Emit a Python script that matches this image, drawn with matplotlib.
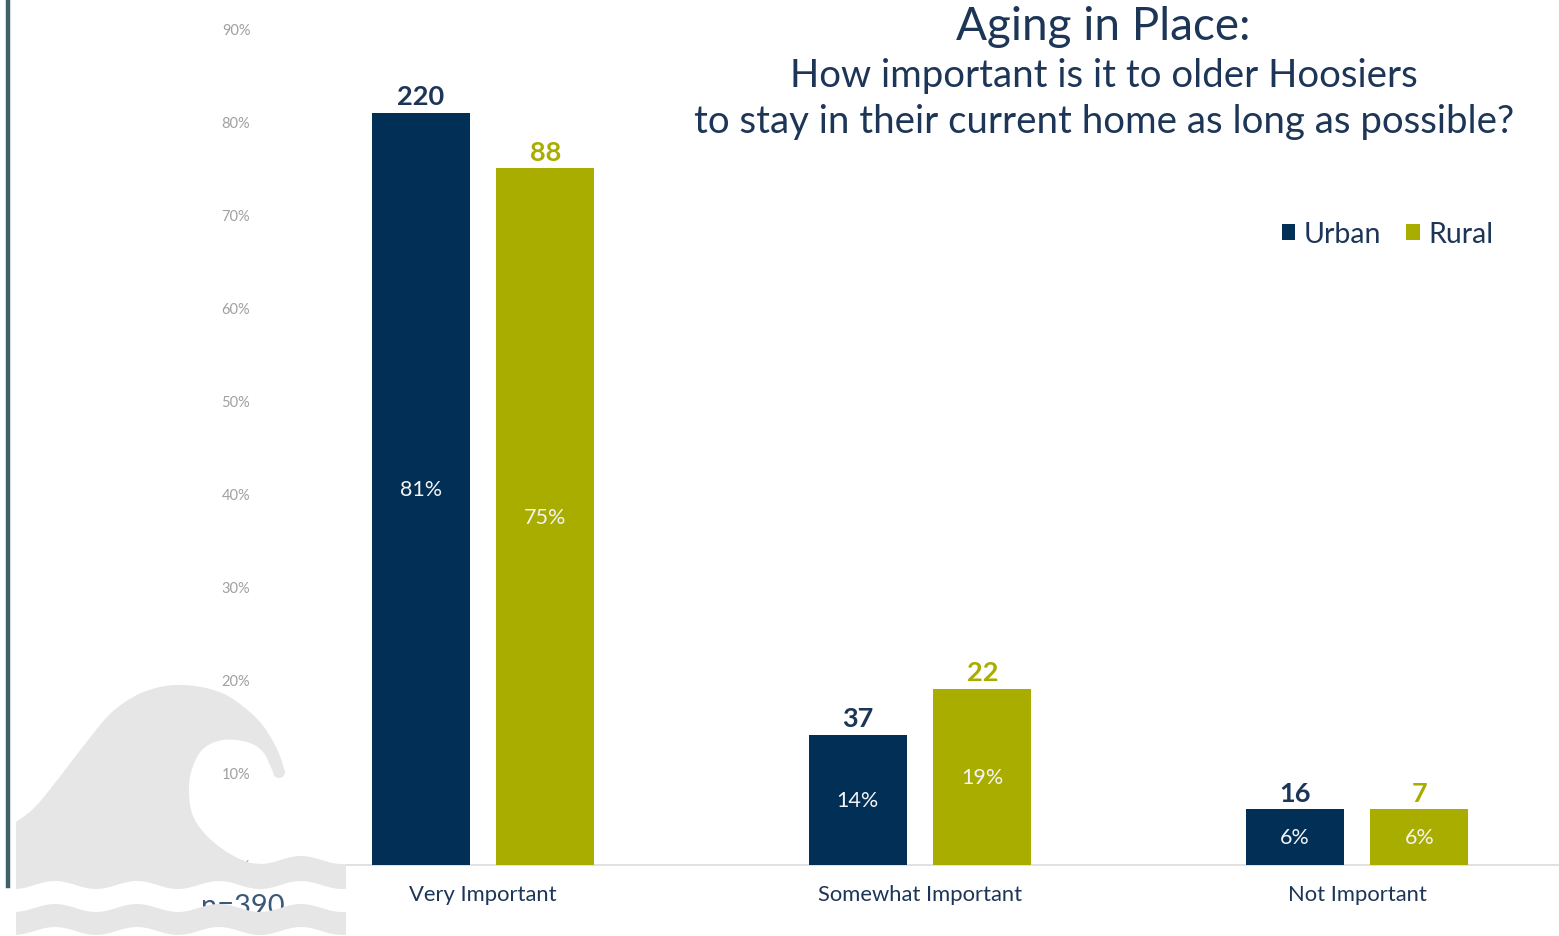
import numpy as np
import matplotlib
matplotlib.use("Agg")
import matplotlib.pyplot as plt
from matplotlib.patches import Polygon, Patch
from matplotlib.lines import Line2D

plt.rcParams['font.family'] = ['Lato', 'DejaVu Sans']

# ---- data ----
categories = ["Very Important", "Somewhat Important", "Not Important"]
urban_pct = [81, 14, 6]
rural_pct = [75, 19, 6]
urban_n = [220, 37, 16]
rural_n = [88, 22, 7]
total_n = 390
y_ticks = list(range(0, 100, 10))
series_names = ["Urban", "Rural"]

NAVY = "#012f56"
OLIVE = "#a9ad00"
TEXT_NAVY = "#1d3658"
GRAY_TICK = "#a0a0a0"

W, H = 1559, 937
fig = plt.figure(figsize=(W / 100, H / 100), dpi=100)
fig.patch.set_facecolor("white")

# main axes, in pixel-based placement
ax_left, ax_right, ax_top, ax_bottom = 260, 1559, 30, 866
ax = fig.add_axes([ax_left / W, (H - ax_bottom) / H,
                   (ax_right - ax_left) / W, (ax_bottom - ax_top) / H])
ax.set_facecolor("none")

x = np.arange(len(categories))
bw = 0.2243
off = 0.1426
bars_u = ax.bar(x - off, urban_pct, width=bw, color=NAVY, zorder=3)
bars_r = ax.bar(x + off, rural_pct, width=bw, color=OLIVE, zorder=3)

ax.set_xlim(-0.5103, 2.4622)
ax.set_ylim(0, 90)
ax.set_yticks(y_ticks)
ax.set_yticklabels([f"{t}%" for t in y_ticks], color=GRAY_TICK, fontsize=10.5)
ax.tick_params(axis="y", length=0, pad=7)
ax.set_xticks(x)
ax.set_xticklabels(categories, fontsize=15.8, color=TEXT_NAVY)
ax.tick_params(axis="x", length=0, pad=14)
for s in ["left", "right", "top"]:
    ax.spines[s].set_visible(False)
ax.spines["bottom"].set_color("#dcdcdc")
ax.spines["bottom"].set_linewidth(1.2)

# value labels
for bars, pcts, ns, col in [(bars_u, urban_pct, urban_n, TEXT_NAVY),
                            (bars_r, rural_pct, rural_n, OLIVE)]:
    for b, p, n in zip(bars, pcts, ns):
        cx = b.get_x() + b.get_width() / 2
        ax.text(cx, p / 2, f"{p}%", ha="center", va="center",
                color="#f4f4f4", fontsize=15.5, zorder=4)
        ax.annotate(f"{n}", (cx, p), xytext=(0, 12), textcoords="offset points",
                    ha="center", va="center", color=col, fontsize=19.5,
                    fontweight="bold", zorder=4)

# title
fig.text(1103 / W, 1 - 27 / H, "Aging in Place:", ha="center", va="center",
         fontsize=33, fontweight="normal", color=TEXT_NAVY)
fig.text(1104 / W, 1 - 76 / H, "How important is it to older Hoosiers",
         ha="center", va="center", fontsize=27.6, color=TEXT_NAVY)
fig.text(1104 / W, 1 - 122 / H, "to stay in their current home as long as possible?",
         ha="center", va="center", fontsize=27.6, color=TEXT_NAVY)

# legend
handles = [Patch(facecolor=NAVY), Patch(facecolor=OLIVE)]
fig.legend(handles, series_names, loc="center left",
           bbox_to_anchor=(1276 / W, 1 - 235 / H), ncol=2, frameon=False,
           fontsize=20.5, handlelength=0.46, handleheight=0.46,
           handletextpad=0.32, columnspacing=0.88, labelcolor=TEXT_NAVY,
           borderpad=0.2, borderaxespad=0)

# sample size note
fig.text(243 / W, 1 - 907 / H, f"n={total_n}", ha="center", va="center",
         fontsize=21, color="#3b5878")

# ---- decorative overlay: left rule and wave icon ----
ov = fig.add_axes([0, 0, 1, 1], zorder=10)
ov.set_xlim(0, W)
ov.set_ylim(H, 0)
ov.axis("off")
ov.patch.set_visible(False)

ov.add_line(Line2D([8, 8], [0, 887], color="#3f6168", lw=3.2))


def catmull(pts, n=12):
    pts = np.asarray(pts, float)
    p = np.vstack([pts[0], pts, pts[-1]])
    out = []
    for i in range(1, len(p) - 2):
        p0, p1, p2, p3 = p[i - 1], p[i], p[i + 1], p[i + 2]
        t = np.linspace(0, 1, n, endpoint=False)[:, None]
        seg = 0.5 * ((2 * p1) + (-p0 + p2) * t + (2 * p0 - 5 * p1 + 4 * p2 - p3) * t ** 2
                     + (-p0 + 3 * p1 - 3 * p2 + p3) * t ** 3)
        out.append(seg)
    out.append(pts[-1:])
    return np.vstack(out)


def wave(xs, base, amp=4.0, period=82.0, x0=55.0):
    return base - amp * np.cos(2 * np.pi * (xs - x0) / period)


WAVE_GRAY = "#e6e6e6"
xl, xr = 16, 346
outer = catmull([(16, 823), (35, 808), (58, 780), (85, 745), (110, 715),
                 (135, 697), (160, 688), (183, 686), (210, 690), (233, 700),
                 (260, 723), (277, 750), (285, 773)])
th = np.linspace(0, -np.pi, 16)
cap = np.column_stack([279 + 6 * np.cos(th), 773 - 6 * np.sin(th)])
inner = catmull([(273, 773), (263, 753), (247, 743), (223, 741), (203, 750),
                 (192, 770), (189, 793), (193, 817), (207, 837), (227, 853),
                 (247, 863), (263, 865)])
xs_top = np.linspace(263, xr, 40)
top_edge = np.column_stack([xs_top, wave(xs_top, 861)])
xs_bot = np.linspace(xr, xl, 120)
bot_edge = np.column_stack([xs_bot, wave(xs_bot, 886)])
main_shape = np.vstack([outer, cap, inner, top_edge, bot_edge])
ov.add_patch(Polygon(main_shape, closed=True, facecolor=WAVE_GRAY,
                     edgecolor="none"))

xs = np.linspace(xl, xr, 120)
band = np.vstack([np.column_stack([xs, wave(xs, 909)]),
                  np.column_stack([xs[::-1], wave(xs[::-1], 932)])])
ov.add_patch(Polygon(band, closed=True, facecolor=WAVE_GRAY, edgecolor="none"))

fig.savefig("out.png", dpi=100, facecolor="white")
